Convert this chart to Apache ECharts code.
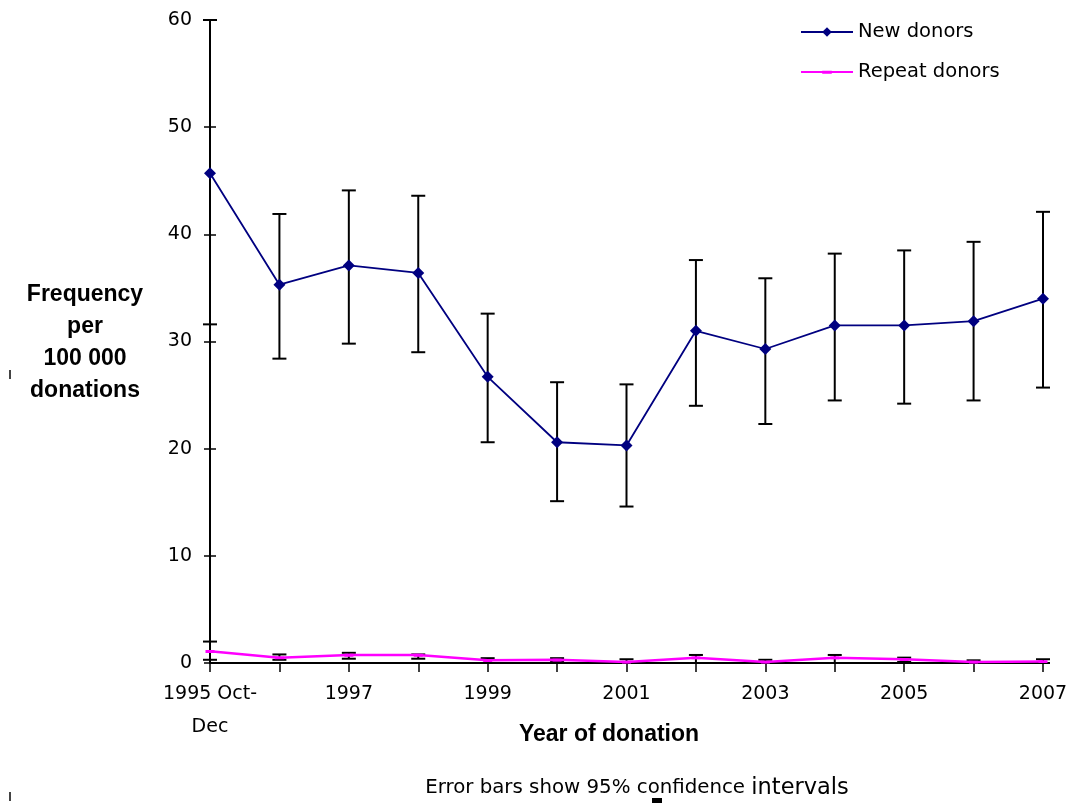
<!DOCTYPE html>
<html>
<head>
<meta charset="utf-8">
<script src="https://cdn.jsdelivr.net/npm/echarts@6/dist/echarts.min.js"></script>
<style>
html,body{margin:0;padding:0;background:#fff;}
#chart{width:1066px;height:803px;}
</style>
</head>
<body>
<div id="chart"></div>
<script>
const categories = ['1995 Oct-\nDec','1996','1997','1998','1999','2000','2001','2002','2003','2004','2005','2006','2007'];
const newDonors = [45.7, 35.3, 37.1, 36.4, 26.7, 20.6, 20.3, 31.0, 29.3, 31.5, 31.5, 31.9, 34.0];
const newLower  = [31.6, 28.4, 29.8, 29.0, 20.6, 15.1, 14.6, 24.0, 22.3, 24.5, 24.2, 24.5, 25.7];
const newUpper  = [60.0, 41.9, 44.1, 43.6, 32.6, 26.2, 26.0, 37.6, 35.9, 38.2, 38.5, 39.3, 42.1];
const repeatDonors = [1.1, 0.5, 0.75, 0.75, 0.25, 0.3, 0.1, 0.5, 0.1, 0.5, 0.35, 0.1, 0.15];
const repeatLower  = [0.3, 0.3, 0.4, 0.4, 0.0, 0.1, 0.0, 0.0, 0.0, 0.0, 0.1, 0.0, 0.0];
const repeatUpper  = [2.0, 0.8, 0.95, 0.8, 0.45, 0.45, 0.35, 0.75, 0.3, 0.75, 0.5, 0.25, 0.35];
const yTicks = {min: 0, max: 60, interval: 10};

const FONT = 'DejaVu Sans, Verdana, sans-serif';
const BOLD = 'Liberation Sans, Arial, sans-serif';
const chart = echarts.init(document.getElementById('chart'));

function errData(lo, hi) { return lo.map((l, i) => [i, l, hi[i]]); }
function renderErr(params, api) {
  const x = api.value(0);
  const p1 = api.coord([x, api.value(1)]);
  const p2 = api.coord([x, api.value(2)]);
  const hw = 7;
  const st = {stroke: '#000', lineWidth: 2};
  return {type: 'group', children: [
    {type: 'line', shape: {x1: p1[0], y1: p1[1], x2: p2[0], y2: p2[1]}, style: st},
    {type: 'line', shape: {x1: p1[0]-hw, y1: p1[1], x2: p1[0]+hw, y2: p1[1]}, style: st},
    {type: 'line', shape: {x1: p2[0]-hw, y1: p2[1], x2: p2[0]+hw, y2: p2[1]}, style: st}
  ]};
}

// dash marker inside a square bounding box (corners are degenerate, invisible)
const dash = 'path://M0,0L0.01,0L0.01,0.01Z M0,3L8,3L8,5.5L0,5.5Z M7.99,7.99L8,7.99L8,8Z';

const option = {
  animation: false,
  backgroundColor: '#fff',
  grid: {left: 210, right: 23, top: 20, bottom: 140, containLabel: false, outerBoundsMode: 'none'},
  legend: {
    orient: 'vertical', left: 800, top: 22, padding: 0, itemWidth: 52, itemHeight: 12, itemGap: 20,
    textStyle: {fontFamily: FONT, fontSize: 19.5, color: '#000'},
    data: ['New donors', 'Repeat donors']
  },
  xAxis: {
    type: 'category', data: categories, boundaryGap: false,
    axisLine: {lineStyle: {color: '#000', width: 2}},
    axisTick: {show: true, length: 9, interval: 0, lineStyle: {color: '#000', width: 1.5}},
    axisLabel: {interval: 1, color: '#000', fontFamily: FONT, fontSize: 19, margin: 15, lineHeight: 33},
    splitLine: {show: false}
  },
  yAxis: [{
    type: 'value', min: yTicks.min, max: yTicks.max, interval: yTicks.interval,
    axisLine: {show: true, lineStyle: {color: '#000', width: 2}},
    axisTick: {show: true, length: 6, lineStyle: {color: '#000', width: 1.5}},
    axisLabel: {color: '#000', fontFamily: FONT, fontSize: 19, margin: 18},
    splitLine: {show: false}
  }, {
    type: 'value', position: 'left', min: yTicks.min, max: yTicks.max, interval: yTicks.interval,
    axisLine: {show: false},
    axisTick: {show: true, inside: true, length: 6, lineStyle: {color: '#000', width: 1.5}},
    axisLabel: {show: false},
    splitLine: {show: false}
  }],
  series: [
    {
      type: 'custom', name: 'newErr', data: errData(newLower, newUpper), renderItem: renderErr,
      z: 2, silent: true, clip: false
    },
    {
      type: 'custom', name: 'repErr', data: errData(repeatLower, repeatUpper), renderItem: renderErr,
      z: 2, silent: true, clip: false
    },
    {
      name: 'Repeat donors', type: 'line', data: repeatDonors, z: 4,
      lineStyle: {color: '#FF00FF', width: 2.5}, itemStyle: {color: '#FF00FF', borderWidth: 0},
      symbol: dash, symbolSize: 9, symbolKeepAspect: true, showSymbol: true
    },
    {
      name: 'New donors', type: 'line', data: newDonors, z: 5,
      lineStyle: {color: '#000080', width: 1.8}, itemStyle: {color: '#000080'},
      symbol: 'diamond', symbolSize: 12, showSymbol: true
    }
  ],
  graphic: [
    {type: 'text', x: 85, y: 343, silent: true,
     style: {text: 'Frequency\nper\n100 000\ndonations', fontFamily: BOLD, fontSize: 23, fontWeight: 'bold',
             fill: '#000', align: 'center', verticalAlign: 'middle', lineHeight: 32}},
    {type: 'text', x: 609, y: 735, silent: true,
     style: {text: 'Year of donation', fontFamily: BOLD, fontSize: 23, fontWeight: 'bold',
             fill: '#000', align: 'center', verticalAlign: 'middle'}},
    {type: 'text', x: 637, y: 788, silent: true,
     style: {text: '{a|Error bars show 95% confidence }{b|intervals}', fill: '#000',
             align: 'center', verticalAlign: 'middle',
             rich: {a: {fontFamily: FONT, fontSize: 19.8, fill: '#000'},
                    b: {fontFamily: FONT, fontSize: 22.5, fill: '#000'}}}},
    {type: 'rect', silent: true, shape: {x: 9, y: 370, width: 2, height: 9}, style: {fill: '#444'}},
    {type: 'rect', silent: true, shape: {x: 9, y: 792, width: 2, height: 9}, style: {fill: '#444'}},
    {type: 'rect', silent: true, shape: {x: 652, y: 798, width: 10, height: 5}, style: {fill: '#000'}}
  ]
};
chart.setOption(option);
</script>
</body>
</html>
